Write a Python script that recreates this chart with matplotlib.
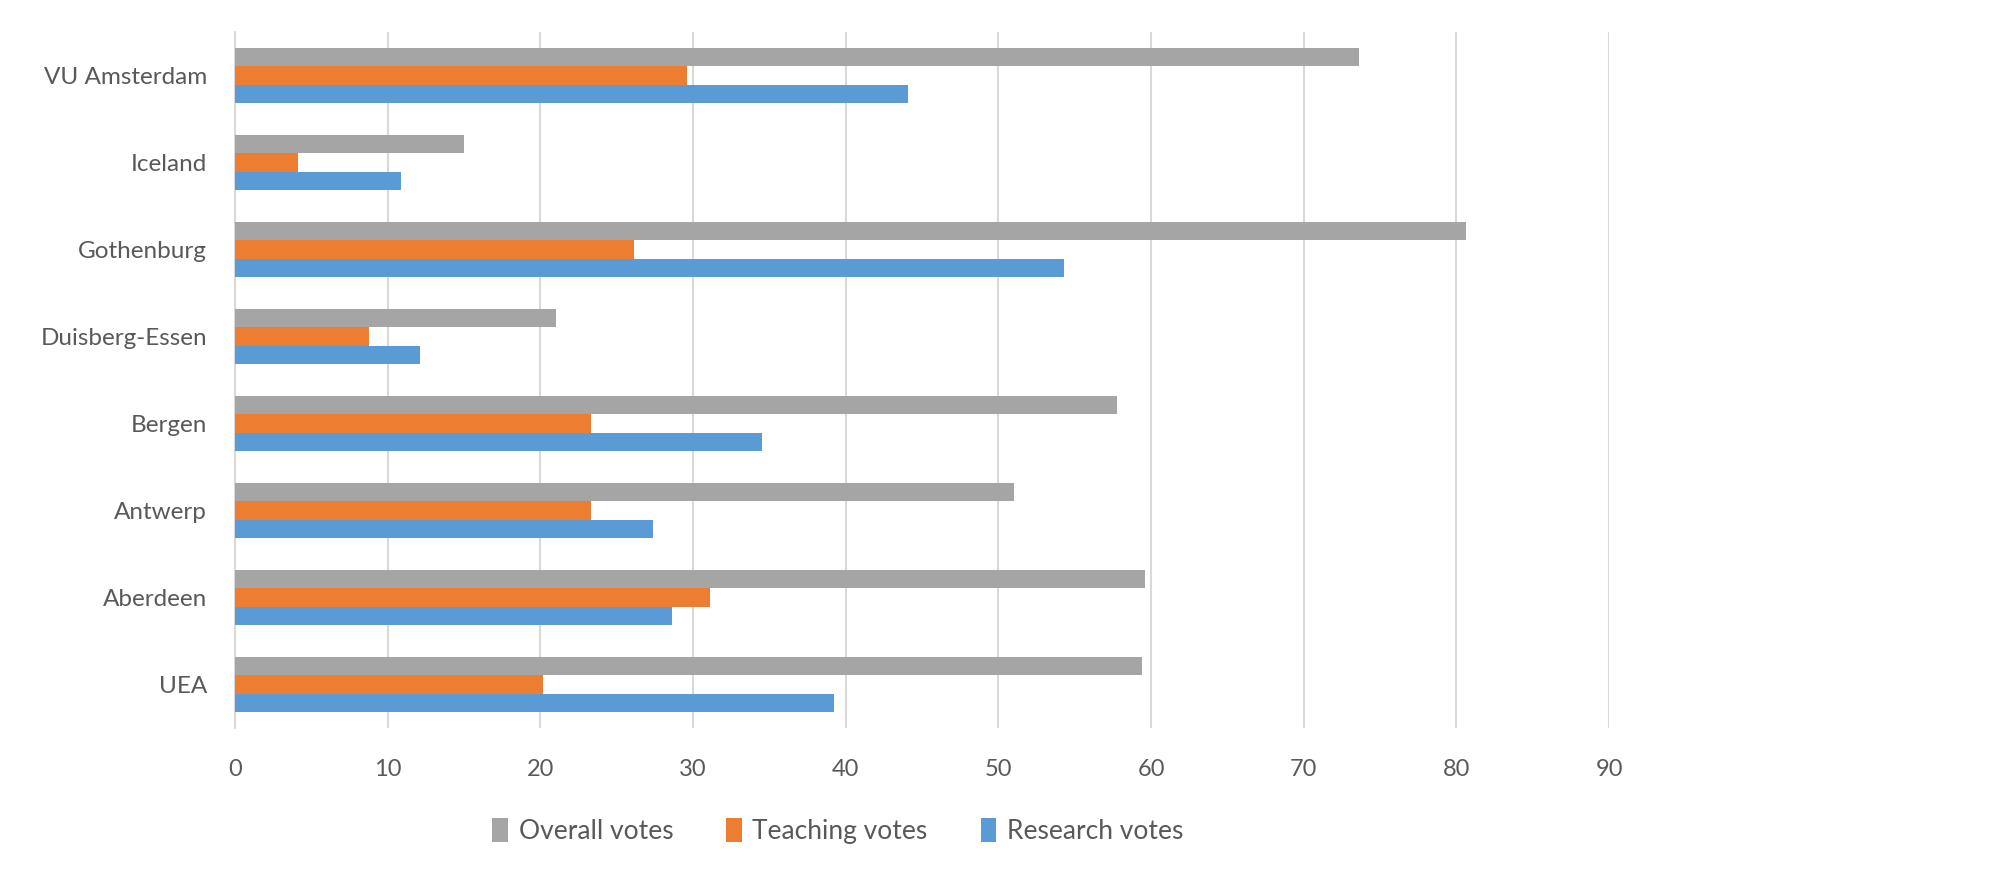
import numpy as np
import matplotlib
matplotlib.use("Agg")
import matplotlib.pyplot as plt

plt.rcParams['font.family'] = ['Lato', 'DejaVu Sans']

# universities listed bottom to top as in the chart
unis = ["UEA", "Aberdeen", "Antwerp", "Bergen", "Duisberg-Essen",
        "Gothenburg", "Iceland", "VU Amsterdam"]
overall = [59.4, 59.6, 51.0, 57.8, 21.0, 80.6, 15.0, 73.6]
teaching = [20.2, 31.1, 23.3, 23.3, 8.8, 26.1, 4.1, 29.6]
research = [39.2, 28.6, 27.4, 34.5, 12.1, 54.3, 10.9, 44.1]
xticks = [0, 10, 20, 30, 40, 50, 60, 70, 80, 90]

c_over = "#a5a5a5"
c_teach = "#ed7d31"
c_res = "#5b9bd5"
txt = "#595959"

fig = plt.figure(figsize=(19.9, 8.76), dpi=100)
ax = fig.add_axes([0.1181, 0.1689, 0.6905, 0.7945])

y = np.arange(len(unis))
h = 0.21
ax.barh(y + h, overall, height=h, color=c_over, label="Overall votes", zorder=3)
ax.barh(y, teaching, height=h, color=c_teach, label="Teaching votes", zorder=3)
ax.barh(y - h, research, height=h, color=c_res, label="Research votes", zorder=3)

ax.set_xlim(0, 90)
ax.set_ylim(-0.5, len(unis) - 0.5)
ax.set_xticks(xticks)
ax.set_yticks(y)
ax.set_yticklabels(unis)
ax.tick_params(axis='y', length=0, pad=20, labelsize=17.5, labelcolor=txt)
ax.tick_params(axis='x', length=0, pad=22, labelsize=17, labelcolor=txt)

ax.grid(axis='x', color="#d9d9d9", linewidth=1.5, zorder=0)
for s in ["top", "right", "bottom"]:
    ax.spines[s].set_visible(False)
ax.spines["left"].set_color("#d9d9d9")
ax.spines["left"].set_linewidth(1.5)

fig.legend(loc="center", bbox_to_anchor=(0.421, 0.051), ncol=3, frameon=False,
           fontsize=19, labelcolor=txt, handlelength=0.6, handleheight=1.0,
           handletextpad=0.4, columnspacing=2.0)

fig.savefig("out.png", dpi=100, facecolor="white")
